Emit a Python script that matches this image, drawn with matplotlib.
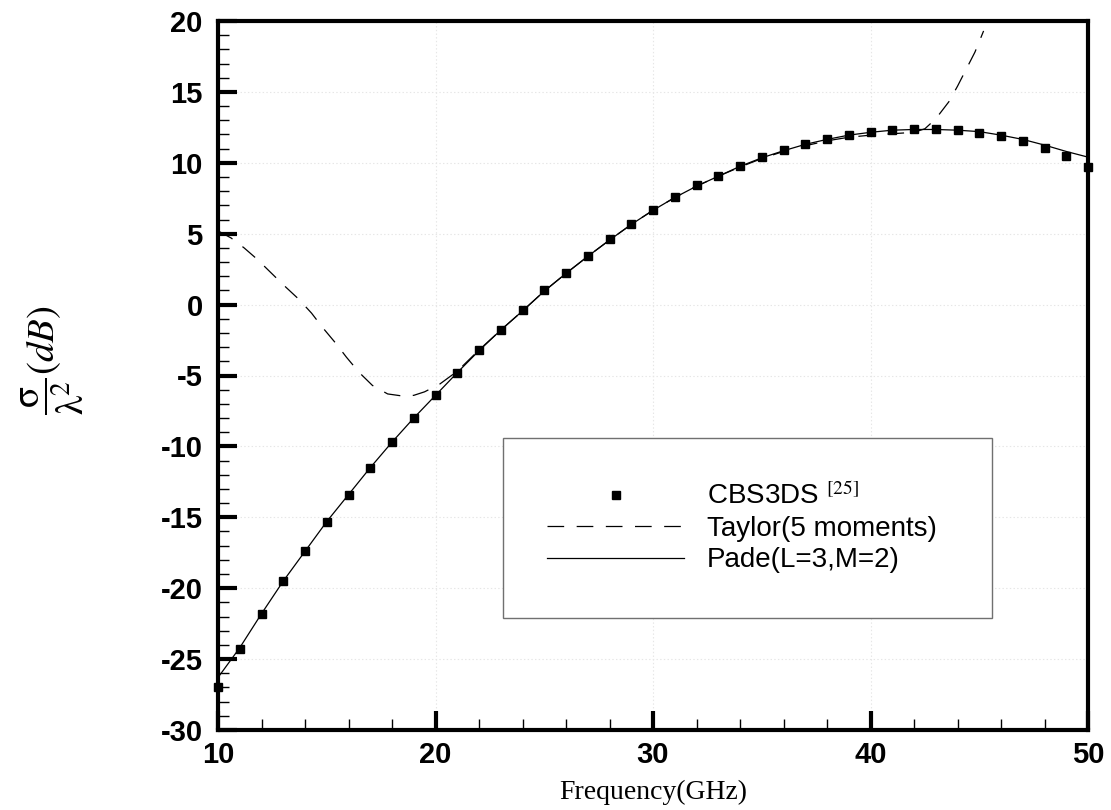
import matplotlib
matplotlib.use("Agg")
import matplotlib.pyplot as plt
from matplotlib.lines import Line2D
from matplotlib.ticker import MultipleLocator

plt.rcParams['font.family'] = ['Liberation Sans', 'DejaVu Sans']
plt.rcParams['mathtext.fontset'] = 'stix'
plt.rcParams['lines.scale_dashes'] = False
plt.rcParams['axes.unicode_minus'] = False

# ---- data ----
cbs_freq = list(range(10, 51))
cbs_val = [-27.0, -24.3, -21.8, -19.5, -17.4, -15.3, -13.4, -11.5, -9.7, -8.0,
           -6.4, -4.8, -3.2, -1.8, -0.4, 1.0, 2.2, 3.4, 4.6, 5.7,
           6.7, 7.6, 8.4, 9.1, 9.8, 10.4, 10.9, 11.3, 11.7, 11.95,
           12.15, 12.3, 12.4, 12.4, 12.3, 12.1, 11.9, 11.55, 11.05, 10.45,
           9.7]

pade_freq = [10, 11, 12, 13, 14, 15, 16, 17, 18, 19, 20, 21, 22, 23, 24, 25,
             26, 27, 28, 29, 30, 31, 32, 33, 34, 35, 36, 37, 38, 39, 40, 41,
             42, 43, 44, 45, 46, 47, 48, 49, 50]
pade_val = [-26.3, -24.2, -21.8, -19.5, -17.4, -15.3, -13.4, -11.5, -9.7, -8.0,
            -6.4, -4.8, -3.25, -1.8, -0.45, 0.95, 2.2, 3.4, 4.55, 5.65,
            6.65, 7.55, 8.35, 9.05, 9.75, 10.35, 10.85, 11.3, 11.65, 11.95,
            12.15, 12.3, 12.35, 12.35, 12.3, 12.2, 11.95, 11.65, 11.25, 10.8,
            10.4]

taylor_freq = [10.0, 10.6, 11.2, 11.8, 12.4, 13.0, 13.7, 14.3, 14.8, 15.4,
               15.9, 16.5, 17.1, 17.8, 18.5, 19.0, 19.5, 20.2, 21.0, 22.0,
               23.0, 24.0, 25.0, 26.0, 27.0, 28.0, 29.0, 30.0, 31.0, 32.0,
               33.0, 34.0, 35.0, 36.0, 37.0, 38.0, 39.0, 40.0, 41.0, 42.0,
               42.5, 43.0, 43.6, 44.0, 44.4, 44.8, 45.2]
taylor_val = [5.2, 4.7, 4.0, 3.2, 2.3, 1.4, 0.4, -0.6, -1.6, -2.7,
              -3.7, -4.8, -5.7, -6.3, -6.45, -6.4, -6.15, -5.6, -4.7, -3.2,
              -1.8, -0.45, 0.95, 2.2, 3.4, 4.55, 5.65, 6.65, 7.55, 8.35,
              9.05, 9.7, 10.3, 10.8, 11.2, 11.55, 11.8, 11.95, 12.05, 12.15,
              12.4, 13.1, 14.3, 15.4, 16.6, 17.8, 19.3]

x_ticks = [10, 20, 30, 40, 50]
y_ticks = [-30, -25, -20, -15, -10, -5, 0, 5, 10, 15, 20]

fig = plt.figure(figsize=(11.11, 8.10), dpi=100)
ax = fig.add_axes([218/1111, 1 - 730/810, (1088-218)/1111, (730-21)/810])

ax.plot(pade_freq, pade_val, color='black', lw=0.9, zorder=3)
ax.plot(taylor_freq, taylor_val, color='black', lw=0.9, dashes=(12, 9), zorder=3)
ax.plot(cbs_freq, cbs_val, linestyle='none', marker='s', ms=6, color='black',
        zorder=4, clip_on=False)

ax.set_xlim(10, 50)
ax.set_ylim(-30, 20)
ax.set_xticks(x_ticks)
ax.set_yticks(y_ticks)
ax.xaxis.set_minor_locator(MultipleLocator(2))
ax.yaxis.set_minor_locator(MultipleLocator(1))
ax.tick_params(which='major', direction='in', length=14, width=3, pad=8,
               labelsize=21)
ax.tick_params(which='minor', direction='in', length=8, width=1)
ax.tick_params(axis='y', which='major', pad=11)
for lab in ax.get_xticklabels() + ax.get_yticklabels():
    lab.set_fontweight('bold')
for s in ax.spines.values():
    s.set_linewidth(3)
ax.grid(True, which='major', color='#e6e6e6', linestyle=':', lw=0.8, zorder=0)

ax.set_xlabel('Frequency(GHz)', family='Liberation Serif', fontsize=20, labelpad=8)
fig.text(53/1111, 1 - 360/810, r'$\dfrac{\mathrm{\sigma}}{\mathrm{\lambda}^2}(dB)$',
         rotation=90, fontsize=28, ha='center', va='center')

handles = [Line2D([], [], linestyle='none', marker='s', ms=6, color='black'),
           Line2D([], [], color='black', lw=0.9, dashes=(12, 9)),
           Line2D([], [], color='black', lw=0.9)]
labels = [r'CBS3DS $^{\mathrm{[25]}}$', 'Taylor(5 moments)', 'Pade(L=3,M=2)']
x0 = (503-218)/870
x1 = (992-218)/870
y1 = (730-439)/709
y0 = (730-617)/709
leg = ax.legend(handles, labels, loc='center', bbox_to_anchor=(x0, y0, x1-x0, y1-y0),
                mode='expand', fontsize=20, handlelength=4.9, handletextpad=0.85,
                borderpad=1.6, labelspacing=0.2, borderaxespad=0,
                fancybox=False, framealpha=1, edgecolor='#707070')
leg.get_frame().set_linewidth(1.0)

fig.savefig('out.png', dpi=100)
